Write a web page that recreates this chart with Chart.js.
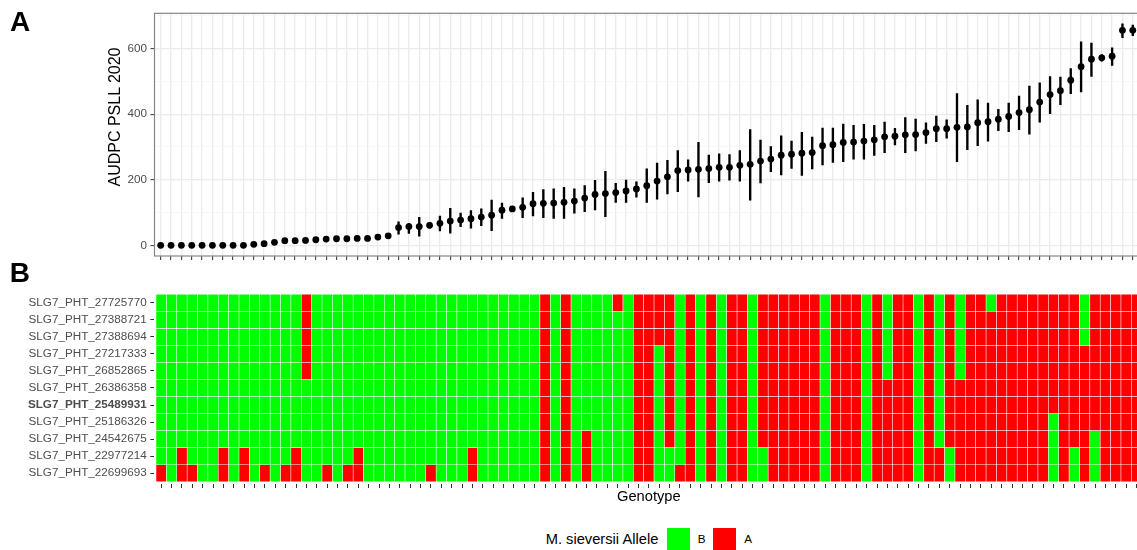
<!DOCTYPE html>
<html>
<head>
<meta charset="utf-8">
<script src="https://cdn.jsdelivr.net/npm/chart.js@4.4.1/dist/chart.umd.min.js"></script>
<style>
html, body { margin: 0; padding: 0; background: #fff; overflow: hidden; }
#figure { position: relative; width: 1137px; height: 550px; overflow: hidden; font-family: "Liberation Sans", Arial, sans-serif; }
#figure canvas { position: absolute; left: 0; }
.tag { position: absolute; font-weight: bold; font-size: 28px; line-height: 28px; color: #000; }
#ytitle { position: absolute; width: 300px; height: 16px; line-height: 16px; font-size: 16px; text-align: center; color: #000;
  left: -35.5px; top: 108.7px; transform: rotate(-90deg); white-space: nowrap; }
.legend-title { position: absolute; font-size: 14.7px; line-height: 14.7px; color: #000; white-space: nowrap; }
.key { position: absolute; width: 22.7px; height: 22.2px; }
.key-label { position: absolute; font-size: 11.7px; line-height: 11.7px; color: #000; }
</style>
</head>
<body>
<div id="figure">
  <canvas id="audpcChart" width="1143" height="262" style="top:0px"></canvas>
  <canvas id="alleleChart" width="1144" height="240" style="top:280px"></canvas>
  <div class="tag" style="left:10px; top:8px">A</div>
  <div class="tag" style="left:9.7px; top:259.3px">B</div>
  <div id="ytitle">AUDPC PSLL 2020</div>
  <div class="legend-title" style="left:545.7px; top:531.6px">M. sieversii Allele</div>
  <div class="key" id="keyB" style="left:667.3px; top:528.3px"></div>
  <div class="key-label" style="left:697.7px; top:533.4px">B</div>
  <div class="key" id="keyA" style="left:713.3px; top:528.3px"></div>
  <div class="key-label" style="left:744.3px; top:533.4px">A</div>
</div>
<script>
// AUDPC per genotype (sorted), with error bar ends
const audpc = [0, 0, 0, 0, 0, 0, 0, 0, 0, 3, 5, 9, 14, 14, 15, 17, 19, 20, 20, 21,
    21, 25, 29, 54, 57, 57, 61, 67, 74, 77, 81, 86, 92, 107, 111, 116, 127, 128, 129, 131,
    135, 144, 155, 158, 161, 166, 172, 182, 196, 209, 228, 230, 232, 234, 238, 238, 244, 247, 257, 263,
    275, 278, 281, 283, 304, 307, 314, 315, 318, 322, 331, 333, 337, 338, 344, 356, 356, 360, 361, 374,
    377, 385, 393, 405, 414, 437, 460, 472, 504, 545, 568, 572, 577, 656, 656];
const audpcLow = [0, 0, 0, 0, 0, 0, 0, 0, 0, 3, 5, 9, 14, 14, 15, 17, 19, 20, 20, 21,
    21, 25, 29, 34, 36, 28, 53, 44, 37, 57, 52, 60, 45, 82, 105, 84, 90, 84, 82, 82,
    98, 103, 108, 87, 131, 131, 147, 131, 141, 157, 164, 196, 148, 191, 196, 199, 196, 138, 190, 225,
    215, 235, 213, 233, 245, 253, 255, 263, 263, 274, 283, 306, 283, 288, 311, 316, 327, 255, 292, 304,
    318, 350, 347, 353, 339, 376, 402, 429, 463, 468, 515, 562, 549, 634, 640];
const audpcHigh = [0, 0, 0, 0, 0, 0, 0, 0, 0, 3, 5, 9, 14, 14, 15, 17, 19, 20, 20, 21,
    21, 25, 29, 72, 67, 85, 70, 89, 113, 98, 106, 111, 138, 129, 117, 145, 162, 170, 172, 177,
    172, 182, 198, 226, 189, 199, 194, 233, 251, 259, 289, 261, 314, 275, 279, 277, 289, 353, 321, 301,
    334, 318, 345, 330, 358, 358, 370, 366, 369, 366, 376, 357, 390, 385, 374, 394, 383, 463, 427, 444,
    434, 415, 434, 455, 486, 496, 515, 513, 539, 621, 617, 582, 603, 676, 672];
const genotypeIndex = audpc.map((v, i) => i);

const yMajorTicks = [0, 200, 400, 600];
const yMinorTicks = [100, 300, 500, 700];

// markers, top to bottom, and the genotype columns carrying allele A
const markers = ["SLG7_PHT_27725770", "SLG7_PHT_27388721", "SLG7_PHT_27388694", "SLG7_PHT_27217333",
    "SLG7_PHT_26852865", "SLG7_PHT_26386358", "SLG7_PHT_25489931", "SLG7_PHT_25186326",
    "SLG7_PHT_24542675", "SLG7_PHT_22977214", "SLG7_PHT_22699693"];
const boldMarker = "SLG7_PHT_25489931";
const alleleA = [
    [14, 37, 39, 44, 46, 47, 48, 49, 51, 53, 55, 56, 58, 59, 60, 61, 62, 63, 65, 66, 67, 69, 71, 72, 74, 76, 78, 79, 81, 82, 83, 84, 85, 86, 87, 88, 90, 91, 92, 93, 94],
    [14, 37, 39, 46, 47, 48, 49, 51, 53, 55, 56, 58, 59, 60, 61, 62, 63, 65, 66, 67, 69, 71, 72, 74, 76, 78, 79, 80, 81, 82, 83, 84, 85, 86, 87, 88, 90, 91, 92, 93, 94],
    [14, 37, 39, 46, 47, 48, 49, 51, 53, 55, 56, 58, 59, 60, 61, 62, 63, 65, 66, 67, 69, 71, 72, 74, 76, 78, 79, 80, 81, 82, 83, 84, 85, 86, 87, 88, 90, 91, 92, 93, 94],
    [14, 37, 39, 46, 47, 49, 51, 53, 55, 56, 58, 59, 60, 61, 62, 63, 65, 66, 67, 69, 71, 72, 74, 76, 78, 79, 80, 81, 82, 83, 84, 85, 86, 87, 88, 89, 90, 91, 92, 93, 94],
    [14, 37, 39, 46, 47, 49, 51, 53, 55, 56, 58, 59, 60, 61, 62, 63, 65, 66, 67, 69, 71, 72, 74, 76, 78, 79, 80, 81, 82, 83, 84, 85, 86, 87, 88, 89, 90, 91, 92, 93, 94],
    [37, 39, 46, 47, 49, 51, 53, 55, 56, 58, 59, 60, 61, 62, 63, 65, 66, 67, 69, 70, 71, 72, 74, 76, 77, 78, 79, 80, 81, 82, 83, 84, 85, 86, 87, 88, 89, 90, 91, 92, 93, 94],
    [37, 39, 46, 47, 49, 51, 53, 55, 56, 58, 59, 60, 61, 62, 63, 65, 66, 67, 69, 70, 71, 72, 74, 76, 77, 78, 79, 80, 81, 82, 83, 84, 85, 86, 87, 88, 89, 90, 91, 92, 93, 94],
    [37, 39, 46, 47, 49, 51, 53, 55, 56, 58, 59, 60, 61, 62, 63, 65, 66, 67, 69, 70, 71, 72, 74, 76, 77, 78, 79, 80, 81, 82, 83, 84, 85, 87, 88, 89, 90, 91, 92, 93, 94],
    [37, 39, 41, 46, 47, 49, 51, 53, 55, 56, 58, 59, 60, 61, 62, 63, 65, 66, 67, 69, 70, 71, 72, 74, 76, 77, 78, 79, 80, 81, 82, 83, 84, 85, 87, 88, 89, 91, 92, 93, 94],
    [2, 6, 8, 13, 19, 30, 37, 39, 41, 46, 47, 51, 53, 55, 56, 59, 60, 61, 62, 63, 65, 66, 67, 69, 70, 71, 72, 74, 75, 77, 78, 79, 80, 81, 82, 83, 84, 85, 87, 89, 91, 92, 93, 94],
    [0, 2, 3, 6, 8, 10, 12, 13, 16, 18, 19, 26, 30, 37, 39, 41, 46, 47, 50, 51, 53, 55, 56, 59, 60, 61, 62, 63, 65, 66, 67, 69, 70, 71, 72, 74, 75, 77, 78, 79, 80, 81, 82, 83, 84, 85, 87, 89, 91, 92, 93, 94]
];
const alleleColors = { B: "#00FF00", A: "#FF0000" };

document.getElementById("keyB").style.background = alleleColors.B;
document.getElementById("keyA").style.background = alleleColors.A;

const fontFamily = "'Liberation Sans', Arial, sans-serif";

const panelBorder = {
    id: "panelBorder",
    afterDraw(chart) {
        const { ctx, chartArea } = chart;
        ctx.save();
        ctx.strokeStyle = "#858585";
        ctx.lineWidth = 1.2;
        ctx.strokeRect(chartArea.left, chartArea.top, chartArea.right - chartArea.left, chartArea.bottom - chartArea.top);
        ctx.restore();
    },
};

const chartAudpc = new Chart(document.getElementById("audpcChart"), {
    type: "bar",
    data: {
        datasets: [
            {
                type: "line",
                label: "AUDPC",
                data: genotypeIndex.map((i) => ({ x: i, y: audpc[i] })),
                showLine: false,
                pointRadius: 3.4,
                pointBackgroundColor: "#000000",
                pointBorderWidth: 0,
                order: 0,
            },
            {
                type: "bar",
                label: "Error",
                data: genotypeIndex.map((i) => ({ x: i, y: [audpcLow[i], audpcHigh[i]] })),
                backgroundColor: "#000000",
                barThickness: 1.7,
                grouped: false,
                order: 1,
            },
        ],
    },
    options: {
        responsive: false,
        animation: false,
        events: [],
        layout: { padding: { top: 13.3, right: 0.7, bottom: 0, left: 0 } },
        plugins: { legend: { display: false }, tooltip: { enabled: false } },
        scales: {
            x: {
                type: "linear",
                min: -0.6,
                max: 94.6,
                offset: false,
                afterBuildTicks: (scale) => {
                    scale.ticks = genotypeIndex.map((v) => ({ value: v }));
                },
                ticks: { display: false, autoSkip: false },
                grid: { color: "#EBEBEB", lineWidth: 1.3, tickColor: "#333333", tickLength: 4, tickWidth: 1, offset: false },
                border: { display: false },
                afterFit: (scale) => {
                    scale.height = 6;
                    scale.paddingLeft = 0;
                    scale.paddingRight = 0;
                },
            },
            y: {
                type: "linear",
                min: -32.65,
                max: 708,
                afterBuildTicks: (scale) => {
                    scale.ticks = yMajorTicks.concat(yMinorTicks).sort((a, b) => a - b).map((v) => ({ value: v }));
                },
                ticks: {
                    callback: (value) => (yMajorTicks.includes(value) ? value : ""),
                    color: "#4D4D4D",
                    font: { family: fontFamily, size: 11.7 },
                    padding: 3.5,
                },
                grid: {
                    color: (ctx) => (ctx.tick && yMajorTicks.includes(ctx.tick.value) ? "#EBEBEB" : "#F5F5F5"),
                    lineWidth: (ctx) => (ctx.tick && yMajorTicks.includes(ctx.tick.value) ? 1.3 : 0.8),
                    tickColor: (ctx) => (ctx.tick && yMajorTicks.includes(ctx.tick.value) ? "#333333" : "rgba(0,0,0,0)"),
                    tickLength: 4,
                    tickWidth: 1,
                },
                border: { display: false },
                afterFit: (scale) => {
                    scale.width = 154.5;
                    scale.paddingTop = 0;
                    scale.paddingBottom = 0;
                },
            },
        },
    },
    plugins: [panelBorder],
});

const heatDatasets = markers.map((name, r) => {
    const base = markers.length - 1 - r;
    return {
        label: name,
        data: genotypeIndex.map((i) => ({ x: i, y: [base, base + 1] })),
        backgroundColor: genotypeIndex.map((i) => (alleleA[r].includes(i) ? alleleColors.A : alleleColors.B)),
        borderColor: "rgba(255,255,255,0.45)",
        borderWidth: 0.6,
        borderSkipped: false,
        grouped: false,
        barPercentage: 1,
        categoryPercentage: 1,
    };
});

const chartAllele = new Chart(document.getElementById("alleleChart"), {
    type: "bar",
    data: { datasets: heatDatasets },
    options: {
        responsive: false,
        animation: false,
        events: [],
        layout: { padding: { top: 13, right: 0.6, bottom: 14.2, left: 0 } },
        plugins: { legend: { display: false }, tooltip: { enabled: false } },
        scales: {
            x: {
                type: "linear",
                min: -0.664,
                max: 94.664,
                offset: false,
                afterBuildTicks: (scale) => {
                    scale.ticks = genotypeIndex.map((v) => ({ value: v }));
                },
                ticks: { display: false, autoSkip: false },
                grid: { drawOnChartArea: false, drawTicks: true, tickLength: 4, tickColor: "#333333", tickWidth: 1, offset: false },
                border: { display: false },
                title: {
                    display: true,
                    text: "Genotype",
                    color: "#000000",
                    font: { family: fontFamily, size: 14.7 },
                    padding: 0,
                },
                afterFit: (scale) => {
                    scale.height = 21.8;
                    scale.paddingLeft = 0;
                    scale.paddingRight = 0;
                },
            },
            y: {
                type: "linear",
                min: -0.135,
                max: 11.076,
                afterBuildTicks: (scale) => {
                    scale.ticks = markers.map((m, k) => ({ value: k + 0.5 }));
                },
                ticks: {
                    callback: (value, index) => markers[markers.length - 1 - index],
                    color: "#4D4D4D",
                    font: (ctx) => ({
                        family: fontFamily,
                        size: 11.7,
                        weight: markers[markers.length - 1 - ctx.index] === boldMarker ? "bold" : "normal",
                    }),
                    padding: 3.5,
                },
                grid: { drawOnChartArea: false, tickLength: 4, tickColor: "#333333", tickWidth: 1 },
                border: { display: false },
                afterFit: (scale) => {
                    scale.width = 154.3;
                    scale.paddingTop = 0;
                    scale.paddingBottom = 0;
                },
            },
        },
    },
});
</script>
</body>
</html>
